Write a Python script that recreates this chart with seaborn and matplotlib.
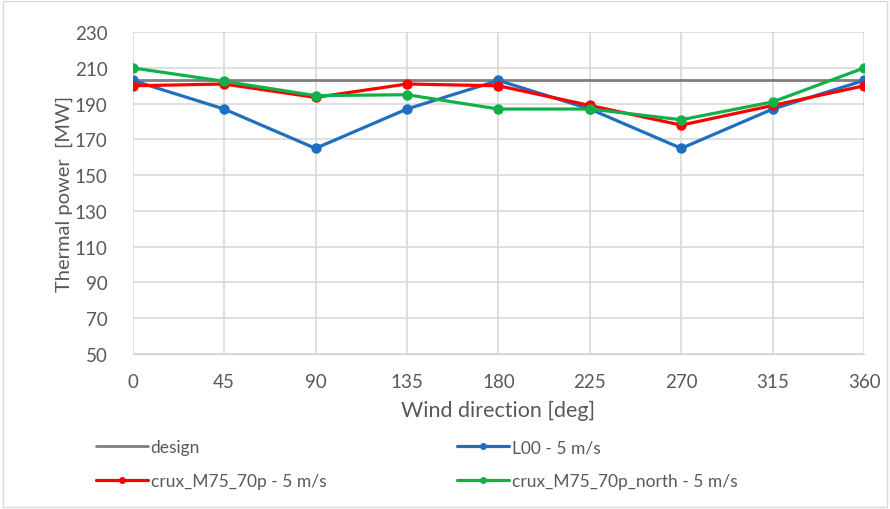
import numpy as np
import pandas as pd
import matplotlib
matplotlib.use("Agg")
import matplotlib.pyplot as plt
import seaborn as sns

directions = [0, 45, 90, 135, 180, 225, 270, 315, 360]
design = [203, 203, 203, 203, 203, 203, 203, 203, 203]
l00 = [203, 187, 165, 187, 203, 187, 165, 187, 203]
crux = [200, 201, 193.5, 201, 200, 189, 178, 189, 200]
crux_north = [210, 202.5, 194.5, 195, 187, 187, 181, 191, 210]

names = ["design", "L00 - 5 m/s", "crux_M75_70p - 5 m/s", "crux_M75_70p_north - 5 m/s"]
series = [design, l00, crux, crux_north]
colors = ["#7f7f7f", "#1f6fc0", "#ff0000", "#12b04a"]

df = pd.DataFrame({
    "dir": directions * 4,
    "val": [v for s in series for v in s],
    "name": [n for n, s in zip(names, series) for _ in s],
})

sns.set_style("white")
plt.rcParams["font.family"] = ["Lato", "DejaVu Sans"]

fig = plt.figure(figsize=(8.9, 5.1), dpi=100)
ax = fig.add_axes([0.149, 0.304, 0.822, 0.631])

for n, c in zip(names, colors):
    sub = df[df["name"] == n]
    if n == "design":
        sns.lineplot(data=sub, x="dir", y="val", color=c, lw=2, ax=ax, label=n, zorder=2)
    else:
        sns.lineplot(data=sub, x="dir", y="val", color=c, lw=2.3, marker="o",
                     markersize=7.5, markeredgewidth=0, ax=ax, label=n, zorder=3)

ax.set_xlim(0, 360)
ax.set_ylim(50, 230)
ax.set_xticks(directions)
ax.set_yticks(np.arange(50, 231, 20))
ax.grid(True, color="#d9d9d9", lw=1.2)
ax.set_axisbelow(True)
for k, s in ax.spines.items():
    s.set_visible(k == "bottom")
ax.spines["bottom"].set_color("#d0d0d0")
ax.tick_params(axis="both", labelsize=13.5, colors="#595959", length=0)
ax.tick_params(axis="y", pad=18)
ax.tick_params(axis="x", pad=14)
ax.set_xlabel("Wind direction [deg]", fontsize=15.5, color="#595959", labelpad=7)
ax.set_ylabel("Thermal power  [MW]", fontsize=14.5, color="#595959", labelpad=1)

h, l = ax.get_legend_handles_labels()
ax.get_legend().remove()
common = dict(loc="center left", frameon=False, fontsize=12.5, labelcolor="#595959",
              handlelength=3.0, handletextpad=0.15, labelspacing=1.0, borderaxespad=0,
              borderpad=0)
leg1 = fig.legend([h[0], h[2]], [l[0], l[2]], bbox_to_anchor=(96 / 890, 1 - 465 / 510), **common)
leg2 = fig.legend([h[1], h[3]], [l[1], l[3]], bbox_to_anchor=(457 / 890, 1 - 465 / 510), **common)
for lg in (leg1, leg2):
    for lh in lg.legend_handles:
        lh.set_markersize(5)

fig.patches.append(plt.Rectangle((0.003, 0.003), 0.994, 0.994, transform=fig.transFigure,
                                 fill=False, edgecolor="#d9d9d9", lw=1))
fig.savefig("out.png", dpi=100)
